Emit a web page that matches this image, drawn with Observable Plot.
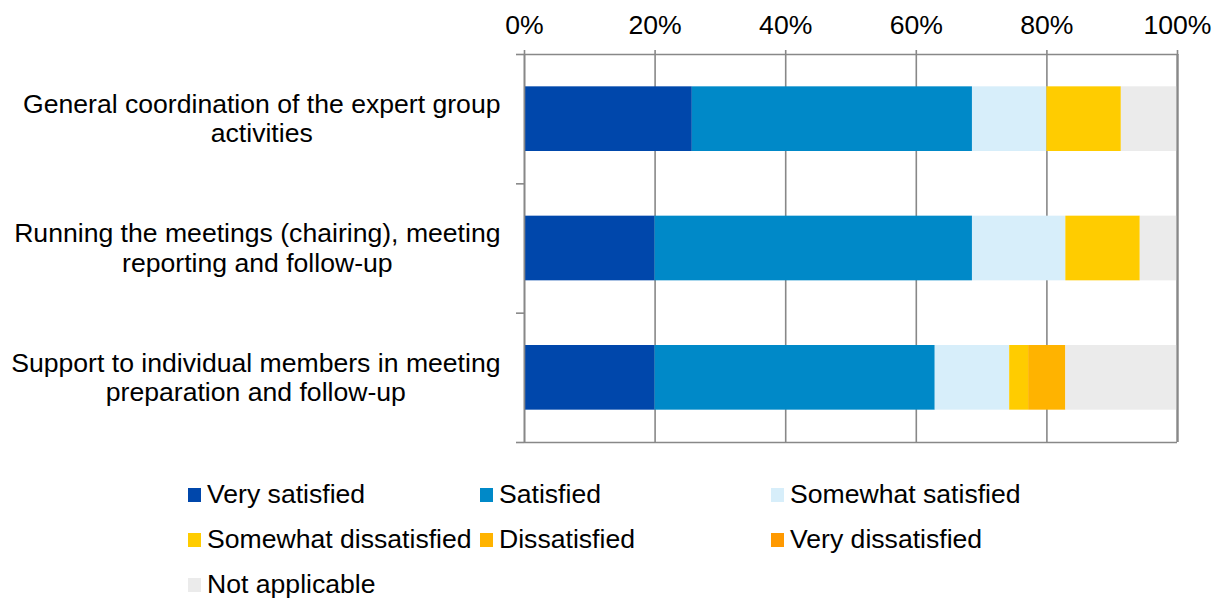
<!DOCTYPE html>
<html>
<head>
<meta charset="utf-8">
<script src="https://cdn.jsdelivr.net/npm/d3@7"></script>
<script src="https://cdn.jsdelivr.net/npm/@observablehq/plot@0.6"></script>
<style>
  html, body { margin: 0; padding: 0; background: #fff; }
  body { width: 1222px; height: 600px; position: relative; overflow: hidden;
         font-family: "Liberation Sans", Arial, sans-serif; }
  #chart { position: absolute; left: 0; top: 0; }
  #legend { position: absolute; left: 188px; top: 472px; display: grid;
            grid-template-columns: 292px 291px 300px; grid-auto-rows: 45px; }
  .item { display: flex; align-items: center; font-size: 26.6px; color: #000; white-space: nowrap; }
  .sw { width: 13px; height: 14px; margin-right: 6px; flex: none; }
</style>
</head>
<body>
<div id="chart"></div>
<div id="legend"></div>
<script>
const categories = [
  "General coordination of the expert group\nactivities",
  "Running the meetings (chairing), meeting\nreporting and follow-up",
  "Support to individual members in meeting\npreparation and follow-up"
];
const series = ["Very satisfied", "Satisfied", "Somewhat satisfied", "Somewhat dissatisfied", "Dissatisfied", "Very dissatisfied", "Not applicable"];
const colors = ["#0047AB", "#0089C8", "#D7EEFA", "#FFCC00", "#FFB300", "#FF9900", "#EBEBEB"];
// percent per category, in series order
const values = [
  [25.7, 42.9, 11.4, 11.4, 0, 0, 8.6],
  [20.0, 48.6, 14.3, 11.4, 0, 0, 5.7],
  [20.0, 42.9, 11.4, 2.9, 5.7, 0, 17.1]
];
const xTicks = [0, 0.2, 0.4, 0.6, 0.8, 1];

// build stacked table
const rows = [];
categories.forEach((cat, i) => {
  let acc = 0;
  series.forEach((s, j) => {
    const v = values[i][j] / 100;
    rows.push({cat, i, series: s, x1: acc, x2: acc + v});
    acc += v;
  });
});

const FS = 26.6;
const FONT = "'Liberation Sans', Arial, sans-serif";
const ctx = document.createElement("canvas").getContext("2d");
ctx.font = `${FS}px 'Liberation Sans', Arial, sans-serif`;
const widthOf = s => d3.max(s.split("\n"), l => ctx.measureText(l).width);

const grid = "#888888";
const labelMarks = categories.map((cat, i) =>
  Plot.text([cat], {
    x: () => 0, y: () => i + 0.5, text: d => d,
    textAnchor: "middle", lineAnchor: "middle", lineHeight: 1.1,
    dx: -(24 + widthOf(cat) / 2), dy: -1, fill: "#000", fontSize: FS
  })
);

const chart = Plot.plot({
  width: 1222, height: 460,
  marginLeft: 524, marginRight: 45, marginTop: 54, marginBottom: 18,
  style: {fontFamily: FONT, fontSize: `${FS}px`, color: "#000", background: "#fff", overflow: "visible"},
  x: {domain: [0, 1], axis: null},
  y: {domain: [0, 3], reverse: true, axis: null},
  color: {domain: series, range: colors},
  marks: [
    Plot.gridX(xTicks, {stroke: grid, strokeOpacity: 1, strokeWidth: 1.6}),
    Plot.rect(rows, {x1: "x1", x2: "x2", y1: d => d.i + 0.25, y2: d => d.i + 0.75, fill: "series"}),
    Plot.ruleY([0, 3], {stroke: grid, strokeWidth: 1.6}),
    Plot.ruleX([0], {stroke: grid, strokeWidth: 1.6}),
    Plot.ruleX([1], {stroke: grid, strokeWidth: 2.2}),
    Plot.axisY([0, 1, 2, 3], {anchor: "left", tickSize: 8, tickFormat: () => "", stroke: grid, strokeWidth: 1.6, label: null}),
    Plot.axisX(xTicks, {anchor: "top", tickSize: 5, tickPadding: 16, tickFormat: d3.format(".0%"),
      stroke: grid, strokeWidth: 1.6, fill: "#000", fontSize: FS, label: null}),
    ...labelMarks
  ]
});
document.getElementById("chart").appendChild(chart);

const legend = document.getElementById("legend");
series.forEach((s, j) => {
  const it = document.createElement("div");
  it.className = "item";
  it.innerHTML = `<span class="sw" style="background:${colors[j]}"></span><span>${s}</span>`;
  legend.appendChild(it);
});
</script>
</body>
</html>
